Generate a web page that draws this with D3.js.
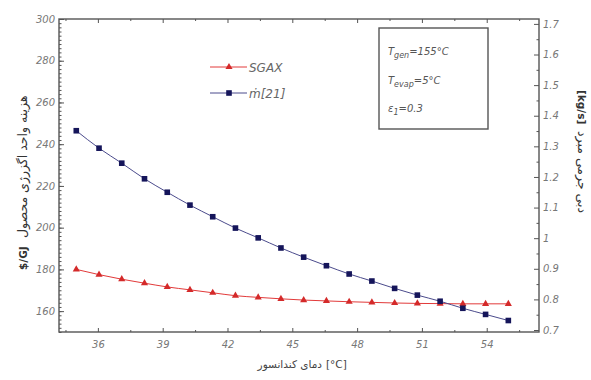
<!DOCTYPE html>
<html><head><meta charset="utf-8">
<script src="https://cdn.jsdelivr.net/npm/d3@7"></script>
<style>body{margin:0;background:#fff}svg{display:block}</style>
</head><body>
<svg id="c" width="591" height="380"></svg>
<script>
const condTemp = [35, 36.053, 37.105, 38.158, 39.211, 40.263, 41.316, 42.368, 43.421, 44.474, 45.526, 46.579, 47.632, 48.684, 49.737, 50.789, 51.842, 52.895, 53.947, 55];
const sgax = [180.0, 177.5, 175.3, 173.4, 171.6, 170.2, 168.8, 167.4, 166.6, 165.9, 165.3, 164.9, 164.5, 164.2, 163.9, 163.7, 163.6, 163.5, 163.5, 163.5];
const mdot21 = [1.351, 1.294, 1.245, 1.194, 1.150, 1.108, 1.070, 1.033, 1.001, 0.968, 0.938, 0.910, 0.883, 0.860, 0.836, 0.814, 0.794, 0.771, 0.751, 0.731];
const xTicks = [36, 39, 42, 45, 48, 51, 54];
const xMinor = [34.5, 37.5, 40.5, 43.5, 46.5, 49.5, 52.5, 55.5];
const yLeftTicks = [160, 180, 200, 220, 240, 260, 280, 300];
const yRightTicks = [0.7, 0.8, 0.9, 1, 1.1, 1.2, 1.3, 1.4, 1.5, 1.6, 1.7];
const legendLabels = ["SGAX", "ṁ[21]"];
const boxLines = [["T", "gen", "=155°C"], ["T", "evap", "=5°C"], ["ε", "1", "=0.3"]];
const xTitle = ["دمای کندانسور", "[°C]"];
const yLeftTitle = ["هزینه واحد اگزرژی محصول", "$/GJ"];
const yRightTitle = ["دبی جرمی مبرد", "[kg/s]"];

const L = 59, R = 539, T = 19, B = 332;
const svg = d3.select("#c");
const x = d3.scaleLinear().domain([34.2, 56.42]).range([L, R]);
const yL = d3.scaleLinear().domain([150, 300]).range([B, T]);
const yR = d3.scaleLinear().domain([0.6935, 1.716]).range([B, T]);
const axisCol = "#555", labCol = "#777";
const font = "'DejaVu Sans', sans-serif";

// frame
svg.append("rect").attr("x", L).attr("y", T).attr("width", R - L).attr("height", B - T)
  .attr("fill", "none").attr("stroke", axisCol).attr("stroke-width", 1.4);

const inner = xMinor.filter(v => x(v) > L && x(v) < R);
// bottom axis
const gB = svg.append("g").attr("transform", `translate(0,${B})`)
  .call(d3.axisBottom(x).tickValues(xTicks).tickSize(-4).tickPadding(9).tickFormat(d3.format("d")));
gB.select(".domain").remove();
gB.selectAll("line").attr("stroke", axisCol);
gB.selectAll("text").attr("fill", labCol).attr("font-size", 10).attr("font-style", "italic").attr("font-family", font);
svg.append("g").attr("transform", `translate(0,${B})`)
  .call(d3.axisBottom(x).tickValues(inner).tickSize(-2).tickFormat(""))
  .call(g => { g.select(".domain").remove(); g.selectAll("line").attr("stroke", axisCol); });
// top ticks
svg.append("g").attr("transform", `translate(0,${T})`)
  .call(d3.axisTop(x).tickValues(xTicks).tickSize(-4).tickFormat(""))
  .call(g => { g.select(".domain").remove(); g.selectAll("line").attr("stroke", axisCol); });
svg.append("g").attr("transform", `translate(0,${T})`)
  .call(d3.axisTop(x).tickValues(inner).tickSize(-2).tickFormat(""))
  .call(g => { g.select(".domain").remove(); g.selectAll("line").attr("stroke", axisCol); });

// left axis
const gL = svg.append("g").attr("transform", `translate(${L},0)`)
  .call(d3.axisLeft(yL).tickValues(yLeftTicks).tickSize(-5).tickPadding(4));
gL.select(".domain").remove();
gL.selectAll("line").attr("stroke", axisCol);
gL.selectAll("text").attr("fill", labCol).attr("font-size", 10).attr("font-style", "italic").attr("font-family", font);
svg.append("g").attr("transform", `translate(${L},0)`)
  .call(d3.axisLeft(yL).ticks(75).tickSize(-2.5).tickFormat(""))
  .call(g => { g.select(".domain").remove(); g.selectAll("line").attr("stroke", axisCol); });

// right axis
const gR = svg.append("g").attr("transform", `translate(${R},0)`)
  .call(d3.axisRight(yR).tickValues(yRightTicks).tickSize(-5).tickPadding(4).tickFormat(d => d === 1 ? "1" : d3.format(".1f")(d)));
gR.select(".domain").remove();
gR.selectAll("line").attr("stroke", axisCol);
gR.selectAll("text").attr("fill", labCol).attr("font-size", 10).attr("font-style", "italic").attr("font-family", font);
svg.append("g").attr("transform", `translate(${R},0)`)
  .call(d3.axisRight(yR).tickValues(d3.range(0.75, 1.7, 0.1)).tickSize(-2.5).tickFormat(""))
  .call(g => { g.select(".domain").remove(); g.selectAll("line").attr("stroke", axisCol); });

// data
const ptsR = condTemp.map((t, i) => [t, sgax[i]]);
const ptsB = condTemp.map((t, i) => [t, mdot21[i]]);
const redCol = "#e23a3a", blueLine = "#4b4b8c", blueMark = "#15155a";
svg.append("path").datum(ptsR).attr("fill", "none").attr("stroke", redCol).attr("stroke-width", 1)
  .attr("d", d3.line().curve(d3.curveMonotoneX).x(d => x(d[0])).y(d => yL(d[1])));
svg.append("path").datum(ptsB).attr("fill", "none").attr("stroke", blueLine).attr("stroke-width", 1)
  .attr("d", d3.line().curve(d3.curveMonotoneX).x(d => x(d[0])).y(d => yR(d[1])));
const tri = d3.symbol().type(d3.symbolTriangle).size(22);
svg.selectAll(".mr").data(ptsR).join("path").attr("class", "mr")
  .attr("transform", d => `translate(${x(d[0])},${yL(d[1])})`).attr("d", tri).attr("fill", "#d42a2a");
svg.selectAll(".mb").data(ptsB).join("rect").attr("class", "mb")
  .attr("x", d => x(d[0]) - 2.8).attr("y", d => yR(d[1]) - 2.8).attr("width", 5.6).attr("height", 5.6)
  .attr("fill", blueMark);

// legend
const lg = svg.append("g");
[[67, redCol, "r"], [93, blueLine, "b"]].forEach(([ly, col, k], i) => {
  lg.append("line").attr("x1", 210).attr("x2", 247).attr("y1", ly).attr("y2", ly).attr("stroke", col).attr("stroke-width", 1);
  if (k === "r") lg.append("path").attr("transform", `translate(229,${ly})`).attr("d", tri).attr("fill", "#d42a2a");
  else lg.append("rect").attr("x", 226.2).attr("y", ly - 2.8).attr("width", 5.6).attr("height", 5.6).attr("fill", blueMark);
  lg.append("text").attr("x", 249).attr("y", ly + 4.5).text(legendLabels[i])
    .attr("font-family", font).attr("font-size", 12).attr("font-style", "italic").attr("fill", "#666");
});

// info box
svg.append("rect").attr("x", 379).attr("y", 28).attr("width", 109).attr("height", 101)
  .attr("fill", "#fff").attr("stroke", axisCol).attr("stroke-width", 1.4);
[55, 84, 112].forEach((by, i) => {
  const t = svg.append("text").attr("x", 388).attr("y", by).attr("font-family", font)
    .attr("font-size", 10).attr("font-style", "italic").attr("fill", "#555");
  t.append("tspan").text(boxLines[i][0]);
  t.append("tspan").attr("dy", 3).attr("font-size", 8).text(boxLines[i][1]);
  t.append("tspan").attr("dy", -3).text(boxLines[i][2]);
});

// axis titles
svg.append("text").attr("x", 322).attr("y", 368).attr("text-anchor", "end")
  .attr("font-family", font).attr("font-size", 10.5).attr("fill", "#444").text(xTitle[0]);
svg.append("text").attr("x", 326).attr("y", 368).attr("text-anchor", "start")
  .attr("font-family", font).attr("font-size", 10.5).attr("fill", "#444").text(xTitle[1]);

const gl = svg.append("g").attr("transform", "translate(27,180) rotate(-90)");
gl.append("text").attr("x", -90).attr("y", 0).attr("text-anchor", "start").attr("font-family", font)
  .attr("font-size", 10.5).attr("font-weight", "bold").attr("fill", "#333").text(yLeftTitle[1]);
gl.append("text").attr("x", -58).attr("y", 0).attr("text-anchor", "start")
  .attr("font-family", font).attr("font-size", 12.5).attr("fill", "#333").text(yLeftTitle[0]);

const gr = svg.append("g").attr("transform", "translate(578,90) rotate(90)");
gr.append("text").attr("x", 0).attr("y", 0).attr("font-family", font)
  .attr("font-size", 10.5).attr("font-weight", "bold").attr("fill", "#333").text(yRightTitle[1]);
gr.append("text").attr("x", 41).attr("y", 0).attr("text-anchor", "start")
  .attr("font-family", font).attr("font-size", 12.5).attr("fill", "#333").text(yRightTitle[0]);
</script>
</body></html>
